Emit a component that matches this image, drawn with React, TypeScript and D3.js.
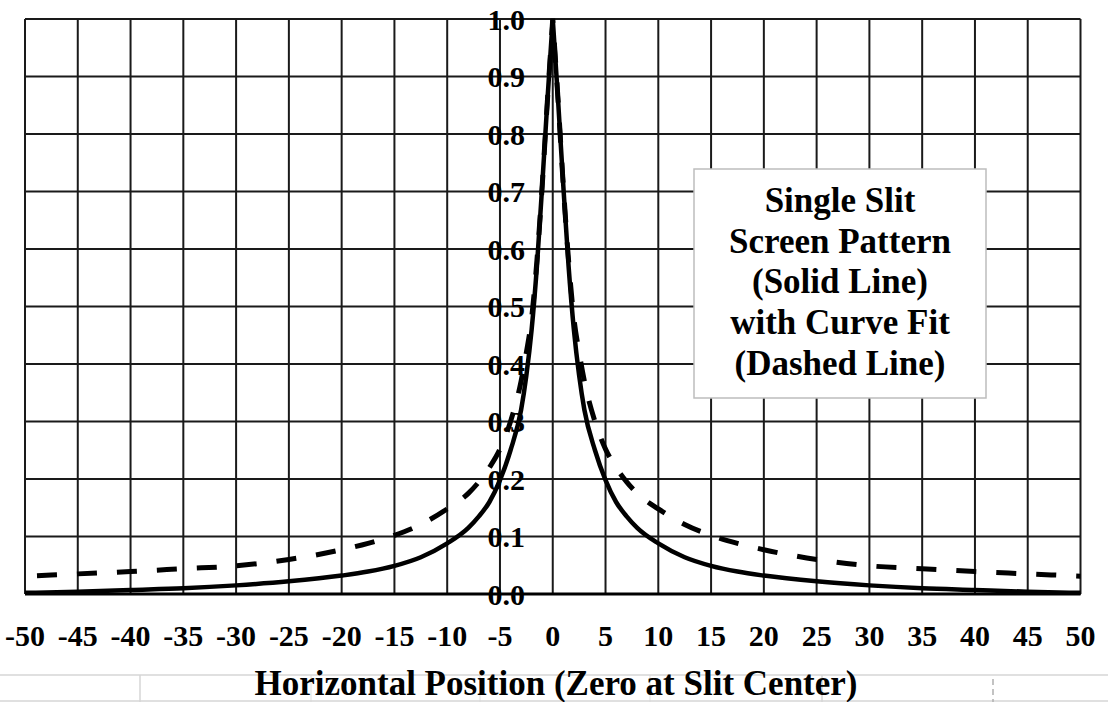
import React from "react";
import * as d3 from "d3";

const xPositions = [-50, -45, -40, -35, -30, -25, -20, -17.5, -15, -12.5, -10, -8, -7, -6, -5, -4, -3, -2.5, -2, -1.5, -1, -0.5, 0, 0.5, 1, 1.5, 2, 2.5, 3, 4, 5, 6, 7, 8, 10, 12.5, 15, 17.5, 20, 25, 30, 35, 40, 45, 50];
const screenPattern = [0.002, 0.004, 0.007, 0.010, 0.015, 0.022, 0.032, 0.039, 0.049, 0.064, 0.088, 0.115, 0.135, 0.16, 0.198, 0.25, 0.32, 0.38, 0.46, 0.57, 0.71, 0.86, 1.0, 0.86, 0.71, 0.57, 0.46, 0.38, 0.32, 0.25, 0.198, 0.16, 0.135, 0.115, 0.088, 0.064, 0.049, 0.039, 0.032, 0.022, 0.015, 0.010, 0.007, 0.004, 0.002];
const curveFit = [0.031, 0.035, 0.039, 0.044, 0.049, 0.060, 0.077, 0.088, 0.102, 0.121, 0.148, 0.175, 0.195, 0.22, 0.252, 0.30, 0.37, 0.42, 0.48, 0.58, 0.71, 0.86, 1.0, 0.86, 0.71, 0.58, 0.48, 0.42, 0.37, 0.30, 0.252, 0.22, 0.195, 0.175, 0.148, 0.121, 0.102, 0.088, 0.077, 0.060, 0.049, 0.044, 0.039, 0.035, 0.031];
const xTicks = d3.range(-50, 51, 5);
const yTicks = d3.range(0, 11).map((i) => i / 10);
const legendLines = ["Single Slit", "Screen Pattern", "(Solid Line)", "with Curve Fit", "(Dashed Line)"];
const xTitle = "Horizontal Position (Zero at Slit Center)";

const FONT = "'Liberation Serif', 'Times New Roman', serif";

export default function App() {
  const W = 1108, H = 702;
  const x = d3.scaleLinear().domain([-50, 50]).range([25, 1080.5]);
  const y = d3.scaleLinear().domain([0, 1]).range([594, 19]);

  const makePath = (vals: number[]) => {
    const pts = xPositions.map((xv, i) => [xv, vals[i]] as [number, number]);
    const left = pts.filter((p) => p[0] <= 0);
    const right = pts.filter((p) => p[0] >= 0);
    const line = d3
      .line<[number, number]>()
      .x((d) => x(d[0]))
      .y((d) => y(d[1]))
      .curve(d3.curveMonotoneX);
    const a = line(left) || "";
    const b = (line(right) || "").replace(/^M[^CLc]*/, "");
    return a + b;
  };

  const solidD = makePath(screenPattern);
  const dashedD = makePath(curveFit);

  const gridColor = "#1a1a1a";
  const sheetColor = "#d6d6d6";

  return (
    <svg
      width={W}
      height={H}
      style={{ position: "absolute", left: 0, top: 0, background: "#fff" }}
      fontFamily={FONT}
    >
      {/* spreadsheet cell borders behind */}
      <g stroke={sheetColor} strokeWidth={1.5}>
        <line x1={0} x2={W} y1={675} y2={675} />
        <line x1={0} x2={W} y1={701} y2={701} />
        <line x1={140} x2={140} y1={675} y2={702} />
        <line x1={311} x2={311} y1={675} y2={702} strokeOpacity={0.5} />
        <line x1={480} x2={480} y1={675} y2={702} strokeOpacity={0.5} />
        <line x1={650} x2={650} y1={675} y2={702} strokeOpacity={0.5} />
        <line x1={822} x2={822} y1={675} y2={702} />
        <line x1={993} x2={993} y1={679} y2={702} strokeDasharray="6 4" stroke="#b0b0b0" />
      </g>

      {/* grid */}
      <g stroke={gridColor} strokeWidth={2}>
        {xTicks.map((t) => (
          <line key={"vx" + t} x1={x(t)} x2={x(t)} y1={y(1)} y2={y(0)} />
        ))}
        {yTicks.map((t) => (
          <line key={"hy" + t} x1={x(-50)} x2={x(50)} y1={y(t)} y2={y(t)} />
        ))}
        <line x1={x(-50)} x2={x(50)} y1={y(0)} y2={y(0)} strokeWidth={3} stroke="#000" />
      </g>

      {/* curves */}
      <path d={dashedD} fill="none" stroke="#000" strokeWidth={5} strokeDasharray="20 20" strokeDashoffset={28} />
      <path d={solidD} fill="none" stroke="#000" strokeWidth={4.5} strokeLinejoin="miter" />

      {/* y tick labels */}
      <g fontSize={30} fontWeight="bold" fill="#000" textAnchor="end">
        {yTicks.map((t) => (
          <text key={"yl" + t} x={525} y={y(t)} dy="0.35em">
            {d3.format(".1f")(t)}
          </text>
        ))}
      </g>

      {/* x tick labels */}
      <g fontSize={30} fontWeight="bold" fill="#000" textAnchor="middle">
        {xTicks.map((t) => (
          <text key={"xl" + t} x={x(t)} y={646}>
            {String(t)}
          </text>
        ))}
      </g>

      {/* x title */}
      <text x={556} y={695} fontSize={35} fontWeight="bold" textAnchor="middle" fill="#000">
        {xTitle}
      </text>

      {/* legend box */}
      <rect x={694} y={169} width={292} height={229} fill="#fff" stroke="#bdbdbd" strokeWidth={1.5} />
      <g fontSize={35} fontWeight="bold" textAnchor="middle" fill="#000">
        {legendLines.map((s, i) => (
          <text key={s} x={840} y={212 + i * 40.7}>
            {s}
          </text>
        ))}
      </g>
    </svg>
  );
}
